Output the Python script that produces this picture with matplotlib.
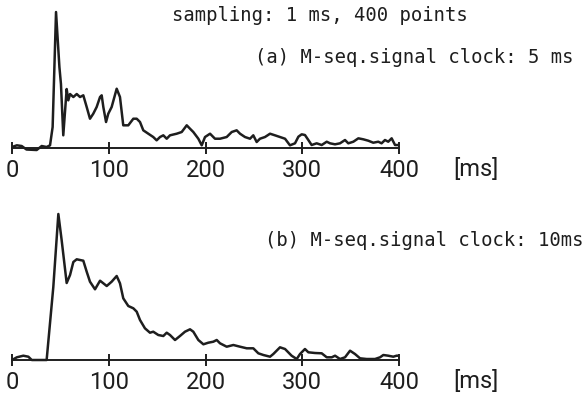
import matplotlib.pyplot as plt
import numpy as np

# (a) clock 5 ms -- time [ms] and response (arbitrary units)
t_a = [0, 5, 10, 15, 25.5, 30.7, 35.8, 39.3, 42, 45.5, 49, 50.6, 53, 56.5, 58.2, 60,
       63.4, 66.9, 70.3, 73.7, 77.2, 80.6, 84, 87.5, 91, 92.7, 94.4, 97.2, 99.5, 103,
       108.2, 111.6, 115, 120.2, 125.4, 128.9, 132.3, 135.7, 140.9, 146, 149.5, 153,
       156.4, 159.9, 163.3, 170.2, 175.4, 180.6, 184, 187.4, 192.6, 196.1, 199.5, 204.7,
       209.8, 215, 221.9, 227.1, 232.2, 235.7, 240.8, 246, 249.4, 252.9, 256.3, 261.5,
       266.7, 271.8, 277, 282.2, 287.3, 292.5, 296, 299.4, 302.8, 306.3, 309.7, 314.9,
       320.1, 325.3, 328.7, 333.9, 339, 344.2, 347.6, 352.8, 358, 363.1, 368.3, 373.4,
       378.6, 382, 385.5, 388.9, 392.4, 395.9, 400]
y_a = [1, 2.7, 2, -1.5, -2, 2, 1, 2.7, 21, 136, 81, 64, 12.7, 59, 47.7, 54,
       51, 54, 51, 52.7, 41, 29.3, 34.3, 41, 51, 52.7, 41, 26, 34.3, 41,
       59.3, 51, 22.7, 22.7, 29.3, 29.3, 26, 17.7, 14.3, 11, 7.7, 11,
       12.7, 9.3, 12.7, 14.3, 16, 22.7, 19.3, 16, 9.3, 2.7, 11, 14.3,
       9.3, 9.3, 11, 16, 17.7, 14.3, 11, 9.3, 12.7, 6, 9.3, 11,
       14.3, 12.7, 11, 9.3, 2.7, 4.7, 11.3, 13.7, 13, 8, 3, 4.7,
       3, 6.3, 4.7, 3.7, 4.7, 8, 4.7, 6.3, 9.7, 8.7, 7.3, 5.3,
       6.3, 4.7, 8, 6.3, 9.7, 3, 3]

# (b) clock 10 ms
t_b = [0, 5, 11.7, 16.9, 20.4, 35.8, 42.7, 47.9, 51.3, 56.5, 60, 63.4, 66.9, 73.7,
       77.2, 80.6, 85.8, 91, 94.4, 97.9, 103, 108.2, 111.6, 115, 120.2, 125.4, 128.9,
       132.3, 137.4, 142.6, 146, 151.2, 156.4, 159.9, 163.3, 168.5, 173.6, 178.8, 184,
       187.4, 192.6, 197.8, 202.9, 208.1, 211.6, 215, 221.9, 228.8, 235.7, 242.6,
       249.4, 254.6, 259.8, 266.7, 270.1, 277, 282.2, 289, 294.3, 297.7, 302.8, 306.3,
       313.2, 320.1, 325.3, 330.5, 333.9, 339, 344.2, 349.4, 354.5, 359.7, 366.6,
       375.2, 380.4, 383.8, 388.9, 394.1, 397.5, 400]
y_b = [0, 2.7, 4.3, 3.3, 0, 0, 73, 146, 120, 77, 85, 98, 100.7, 99.3,
       88.3, 78.3, 70.7, 79.3, 76.7, 74, 78.3, 84, 76.7, 61.7, 54, 51.7, 48.3,
       40, 31.7, 27.3, 28.3, 25, 24, 27.3, 25, 20, 24, 28.3, 30.7,
       28.3, 20, 15.7, 17.3, 18.3, 20, 16.7, 13.3, 15, 13.3, 11.7,
       11.7, 6.7, 5, 3.3, 6, 12.7, 11, 4.3, 1, 6, 11, 7.7,
       7, 6.7, 2.7, 2.7, 4.3, 1, 2.7, 9.3, 6, 1.7, 1,
       1, 2.7, 5, 4.3, 3.3, 4.3, 4.3]

ticks = [0, 100, 200, 300, 400]
ink = '#1e1e1e'

fig = plt.figure(figsize=(5.87, 3.99), dpi=100)
mono = 'DejaVu Sans Mono'
num_font = dict(family='Roboto', weight='normal')


def panel(rect, t, y, ylim):
    ax = fig.add_axes(rect)
    ax.plot(t, y, color=ink, lw=1.8, solid_joinstyle='round')
    ax.set_xlim(0, 400)
    ax.set_ylim(*ylim)
    for s in ['top', 'right', 'left']:
        ax.spines[s].set_visible(False)
    ax.spines['bottom'].set_position(('data', 0))
    ax.spines['bottom'].set_color(ink)
    ax.spines['bottom'].set_linewidth(1.4)
    ax.set_yticks([])
    ax.set_xticks(ticks)
    ax.set_xticklabels([str(v) for v in ticks], fontdict=num_font)
    ax.tick_params(axis='x', direction='inout', length=8, width=1.4, color=ink,
                   pad=4, labelsize=17, labelcolor=ink)
    ax.patch.set_alpha(0)
    ax.text(1.199, -0.035, '[ms]', transform=ax.transAxes, fontsize=17, color=ink,
            ha='center', va='top', **num_font)
    return ax


ax1 = panel([12 / 587, 0.6165, 387 / 587, 0.3634], t_a, y_a, (-5, 140))
ax2 = panel([12 / 587, 0.0852, 387 / 587, 0.3885], t_b, y_b, (-5, 150))

fig.text(0.545, 0.962, 'sampling: 1 ms, 400 points', fontsize=13.6, family=mono,
         color=ink, ha='center', va='center')
fig.text(0.977, 0.857, '(a) M-seq.signal clock: 5 ms', fontsize=13.6, family=mono,
         color=ink, ha='right', va='center')
fig.text(0.994, 0.398, '(b) M-seq.signal clock: 10ms', fontsize=13.6,
         family=mono, color=ink, ha='right', va='center')

fig.savefig('out.png', dpi=100)
